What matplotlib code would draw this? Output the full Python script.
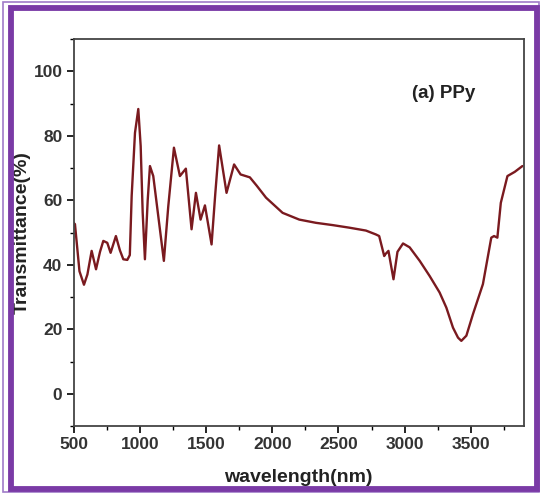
import matplotlib
matplotlib.use("Agg")
import matplotlib.pyplot as plt
from matplotlib.patches import Rectangle
from matplotlib.ticker import MultipleLocator

wavelength = [500, 511, 545, 579, 605, 637, 670, 700, 725, 755, 780, 820, 850, 876, 906, 925,
              939, 964, 989, 1007, 1022, 1039, 1060, 1077, 1102, 1140, 1182, 1215, 1258, 1303,
              1348, 1391, 1424, 1459, 1492, 1542, 1570, 1599, 1655, 1712, 1761, 1831, 1883,
              1953, 2078, 2204, 2330, 2455, 2581, 2707, 2782, 2807, 2845, 2852, 2877, 2915,
              2945, 2987, 3037, 3113, 3188, 3263, 3314, 3364, 3402, 3427, 3465, 3515, 3590,
              3653, 3674, 3699, 3725, 3775, 3830, 3888]
transmittance = [53, 52.6, 38, 33.8, 37, 44.3, 38.6, 44, 47.4, 46.8, 43.7, 48.9, 44.5, 41.7, 41.5, 43,
                 61.3, 80.9, 88.3, 76.8, 56.3, 41.7, 60, 70.6, 67.5, 55, 41.2, 58, 76.3, 67.5,
                 69.8, 51, 62.3, 54, 58.4, 46.3, 62, 77, 62.3, 71.1, 68, 67.1, 64.5,
                 60.8, 56.1, 54, 53, 52.3, 51.5, 50.6, 49.4, 48.9, 42.7, 43.2, 44.3, 35.5,
                 44, 46.6, 45.4, 41.2, 36.5, 31.4, 26.7, 20.5, 17.4, 16.4, 18, 24.7, 34,
                 48.4, 48.9, 48.4, 59.2, 67.5, 68.8, 70.6]

xticks = [500, 1000, 1500, 2000, 2500, 3000, 3500]
yticks = [0, 20, 40, 60, 80, 100]

plt.rcParams['font.family'] = ['Liberation Sans', 'DejaVu Sans']

fig = plt.figure(figsize=(5.40, 4.93), dpi=100)
W, H = 540, 493
ax = fig.add_axes([73.5 / W, 1 - 426 / H, (524 - 73.5) / W, (426 - 39) / H])

ax.plot(wavelength, transmittance, color='#7a1a1f', lw=1.7,
        solid_joinstyle='round', solid_capstyle='round')
ax.set_xlim(500, 3900)
ax.set_ylim(-10, 110)
ax.set_xticks(xticks)
ax.set_yticks(yticks)
ax.xaxis.set_minor_locator(MultipleLocator(250))
ax.yaxis.set_minor_locator(MultipleLocator(10))
ax.tick_params(which='major', direction='out', length=5, width=1.2, labelsize=12.5, pad=3)
ax.tick_params(which='minor', direction='out', length=3, width=1.0)
for lab in ax.get_xticklabels() + ax.get_yticklabels():
    lab.set_fontweight('bold')
    lab.set_color('#333333')
for sp in ax.spines.values():
    sp.set_linewidth(1.3)
    sp.set_color('#444444')

ax.set_xlabel('wavelength(nm)', fontsize=14, fontweight='bold', color='#222222', labelpad=12)
ax.set_ylabel('Transmittance(%)', fontsize=14, fontweight='bold', color='#222222', labelpad=2)
ax.text(3052, 93, '(a) PPy', fontsize=13.5, fontweight='bold', color='#222222', va='center')

# purple frame
fig.add_artist(Rectangle((3 / W, 1.5 / H), (W - 4.5) / W, (H - 3.5) / H, transform=fig.transFigure,
                         fill=False, edgecolor='#a07cc8', lw=1.2))
fig.add_artist(Rectangle((10.5 / W, 4 / H), (W - 14) / W, (H - 11.5) / H, transform=fig.transFigure,
                         fill=False, edgecolor='#7a3aa6', lw=4.2))

fig.savefig('out.png', dpi=100)
